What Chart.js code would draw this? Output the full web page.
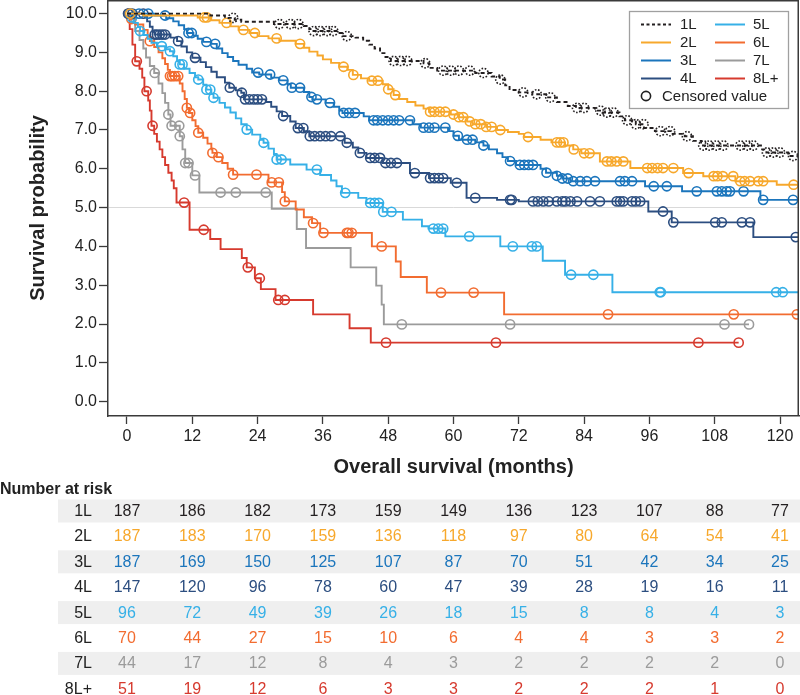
<!DOCTYPE html>
<html>
<head>
<meta charset="utf-8">
<script src="https://cdn.jsdelivr.net/npm/chart.js@4"></script>
<style>
  html, body { margin: 0; padding: 0; background: #fff; }
  #wrap { position: relative; width: 800px; height: 695px; }
</style>
</head>
<body>
<div id="wrap"><canvas id="km"></canvas></div>
<script>
// Kaplan-Meier overall survival by line of therapy, with number-at-risk table.

const curveNames = ["1L", "2L", "3L", "4L", "5L", "6L", "7L", "8L+"];
const riskMonths = [0, 12, 24, 36, 48, 60, 72, 84, 96, 108, 120];

// step curves: time (months) where the curve drops, and the value after the drop
const t1L = [0, 15.3, 18, 19.8, 21, 27, 32.5, 33.5, 34, 38.5, 39.5, 42, 43.4, 44.5, 45.5, 46.5, 47.5, 48.5, 54.5, 55.5, 57, 64, 67, 68.5, 69.5, 70.3, 72, 74.5, 77, 79, 81, 82.5, 86, 87.5, 90.5, 91.5, 93.5, 95, 97, 100, 102.5, 104, 105.5, 116.5, 117.5, 121.5];
const s1L = [10, 9.95, 9.89, 9.84, 9.79, 9.73, 9.68, 9.6, 9.55, 9.5, 9.42, 9.38, 9.3, 9.2, 9.1, 8.98, 8.88, 8.78, 8.72, 8.6, 8.53, 8.47, 8.38, 8.3, 8.15, 8.03, 7.97, 7.92, 7.84, 7.72, 7.62, 7.57, 7.5, 7.45, 7.35, 7.25, 7.15, 7.05, 6.97, 6.9, 6.84, 6.72, 6.6, 6.5, 6.42, 6.33];
const c1L = [19.5, 28, 30, 31.5, 34.3, 35.5, 36.8, 37.9, 40.4, 49, 50.3, 51.5, 54.8, 58.1, 59.5, 61, 63, 65.5, 68.6, 72.8, 75.3, 77.8, 82.7, 84, 87, 88.2, 89.4, 91.9, 93.5, 94.9, 98, 99.8, 102.9, 105.9, 107, 108.3, 109.6, 112.7, 114, 115.1, 117.6, 118.8, 120, 122.4];

const t2L = [0, 3, 13, 15.3, 17, 19, 20.5, 22.5, 24, 26, 28, 31, 32.5, 33.5, 35, 36, 37.5, 39, 40.5, 41.5, 43, 44.5, 47, 48, 49, 50, 51.5, 53, 54.5, 55.5, 59.5, 61, 62.5, 63.5, 66, 68, 70, 72, 73, 76, 78, 80.5, 82, 83.5, 86.9, 92.5, 102.2, 105.9, 111.8, 119.4];
const s2L = [10, 9.95, 9.9, 9.83, 9.76, 9.67, 9.58, 9.5, 9.42, 9.36, 9.3, 9.22, 9.12, 9.02, 8.92, 8.82, 8.73, 8.63, 8.55, 8.42, 8.33, 8.27, 8.18, 8.05, 7.9, 7.8, 7.72, 7.63, 7.55, 7.47, 7.4, 7.33, 7.22, 7.15, 7.08, 7.0, 6.95, 6.9, 6.82, 6.75, 6.68, 6.6, 6.5, 6.4, 6.19, 6.02, 5.89, 5.81, 5.68, 5.59];
const c2L = [0.6, 14.2, 14.7, 18.3, 21.4, 23.5, 27.5, 31.8, 39.8, 41.6, 45, 46.1, 48, 49.3, 55.7, 56.5, 57.5, 58.5, 60, 61, 61.8, 63, 64, 65, 66, 67, 68.6, 73.7, 79, 79.6, 80.2, 82.1, 84, 85, 88.2, 89, 90, 91.2, 95.6, 96.5, 97.5, 98.5, 100.4, 103.2, 107.8, 108.5, 109.5, 111.4, 112.7, 113.5, 114.5, 116, 116.9, 122.5];

const t3L = [0, 5, 7.2, 8.5, 9.5, 10.5, 11, 12.2, 13, 14, 15.5, 16.5, 17.5, 18.5, 19.5, 20.5, 22, 23, 24.3, 26.5, 28, 29.5, 30.1, 32.5, 33.5, 34.1, 36.5, 38, 39, 39.6, 43.5, 44.5, 52.5, 54, 59, 60, 61, 64, 65.5, 66.5, 68, 69, 70, 71.5, 76, 77, 79, 80, 81.5, 95.2, 102, 116.4];
const s3L = [10, 9.95, 9.88, 9.8, 9.7, 9.6, 9.5, 9.43, 9.35, 9.27, 9.22, 9.1, 8.98, 8.88, 8.78, 8.68, 8.58, 8.48, 8.43, 8.35, 8.28, 8.18, 8.09, 7.98, 7.85, 7.79, 7.7, 7.6, 7.5, 7.44, 7.35, 7.25, 7.15, 7.06, 6.97, 6.85, 6.75, 6.68, 6.6, 6.5, 6.4, 6.3, 6.2, 6.1, 6.0, 5.9, 5.82, 5.75, 5.68, 5.55, 5.42, 5.2];
const c3L = [0.5, 2.2, 3.9, 7.0, 11.3, 11.9, 14.6, 16.2, 24.1, 26.3, 28.7, 30.3, 31.8, 33.9, 34.9, 37.3, 39.8, 40.8, 41.9, 45.3, 46, 47, 48, 49, 50, 52, 54.5, 55.5, 56.5, 58.5, 60.8, 62.5, 63.5, 65.5, 70.4, 72.2, 73, 73.8, 74.6, 77.1, 79, 80, 81, 82, 83.3, 84.5, 86, 90.6, 91.5, 92.8, 96.8, 99.2, 104.7, 108.4, 109.3, 110.2, 110.8, 113.3, 116.9, 122.4];

const t4L = [0, 3.2, 3.7, 4.2, 4.7, 5.05, 8, 9.2, 10, 11, 12, 13.5, 14.5, 15.5, 16.5, 18, 18.8, 20, 21, 21.5, 25.5, 26.5, 27.5, 28.5, 30, 31, 32.5, 33.5, 40, 41.5, 42.5, 44, 47, 52, 55.5, 59.5, 62.4, 68, 72, 95.8, 100.1, 115.1];
const s4L = [10, 9.93, 9.8, 9.66, 9.53, 9.46, 9.38, 9.29, 9.15, 9.0, 8.86, 8.75, 8.62, 8.5, 8.36, 8.22, 8.09, 8.02, 7.96, 7.79, 7.72, 7.6, 7.48, 7.36, 7.22, 7.05, 6.97, 6.84, 6.67, 6.55, 6.41, 6.28, 6.15, 5.89, 5.76, 5.64, 5.25, 5.2, 5.16, 4.9, 4.62, 4.24];
const c4L = [0.2, 1.0, 3.0, 5.1, 5.5, 6.0, 6.5, 7.0, 9.4, 12.5, 18.9, 21.1, 21.7, 22.5, 23.3, 24, 24.8, 28.7, 31.4, 32.4, 33.6, 34.5, 35.5, 36.5, 37.5, 39.2, 40.4, 42.8, 44.7, 45.5, 46.5, 47.5, 48.5, 49.6, 52.9, 55.7, 56.5, 57.3, 58.1, 60.6, 64, 70.4, 70.7, 74.6, 75.5, 76.5, 77.5, 79, 80, 80.6, 81.5, 82.7, 85.1, 86.9, 90, 90.6, 91.2, 92.8, 93.5, 94.3, 98.5, 100.4, 108.1, 109.3, 113, 114.5, 122.9];

const t5L = [0, 0.7, 1.2, 2, 2.4, 3, 3.8, 4.5, 5.5, 7, 7.9, 8.5, 9.2, 9.7, 10.5, 11.5, 12.5, 13.1, 14, 14.6, 15.5, 15.9, 17, 18, 19, 20, 21, 22, 23, 24.5, 25.1, 26, 27, 27.5, 30, 33, 35.5, 37.5, 38.5, 39.5, 42.5, 44, 47, 50.7, 54.2, 55.4, 58.5, 68.6, 76.4, 80.5, 89.2];
const s5L = [10, 9.9, 9.76, 9.65, 9.55, 9.45, 9.35, 9.25, 9.16, 9.08, 9.03, 8.9, 8.78, 8.69, 8.58, 8.47, 8.36, 8.3, 8.17, 8.04, 7.93, 7.83, 7.7, 7.58, 7.45, 7.3, 7.15, 7.01, 6.88, 6.75, 6.67, 6.52, 6.38, 6.24, 6.11, 5.98, 5.84, 5.7, 5.55, 5.38, 5.25, 5.12, 4.89, 4.69, 4.52, 4.46, 4.26, 4.0, 3.63, 3.27, 2.82];
const c5L = [0.9, 2.4, 6.4, 7.9, 9.7, 10.2, 13.1, 14.6, 15.3, 15.9, 22.0, 25.1, 27.5, 28.4, 34.9, 40.1, 44.7, 45.5, 46.3, 47.1, 48.6, 56.3, 57.2, 58.1, 62.9, 70.9, 74.4, 75.3, 81.6, 85.7, 97.9, 98.1, 119.3, 120.5];

const t6L = [0, 0.5, 1.5, 3, 3.8, 4.2, 5, 5.8, 6.5, 7, 7.5, 7.9, 9.7, 10.2, 10.6, 11, 11.4, 12, 12.6, 13.1, 14, 14.8, 15.5, 15.7, 16.5, 17.5, 18.5, 19.5, 26, 28.5, 29, 31, 32.5, 34, 35.5, 45, 49.4, 50.3, 55.1, 69.3];
const s6L = [10, 9.86, 9.72, 9.58, 9.43, 9.29, 9.14, 9.0, 8.85, 8.7, 8.55, 8.39, 8.2, 8.0, 7.8, 7.57, 7.44, 7.25, 7.1, 6.93, 6.8, 6.65, 6.5, 6.41, 6.3, 6.15, 6.0, 5.85, 5.65, 5.4, 5.16, 4.95, 4.75, 4.6, 4.35, 4.0, 3.61, 3.21, 2.81, 2.25];
const c6L = [0.3, 0.8, 4.2, 7.9, 8.3, 8.8, 9.4, 11, 11.6, 13.1, 15.7, 16.8, 19.5, 23.8, 26.6, 27.9, 29, 34.2, 36.1, 40.4, 40.7, 41.3, 46.8, 57.7, 63.7, 88.4, 111.5, 123.1];

const t7L = [0, 0.8, 1.5, 2.3, 3, 3.5, 4.2, 5, 5.8, 6.5, 7, 7.6, 8, 9.7, 10.2, 10.7, 12, 13.3, 26.6, 31.2, 32.9, 41.1, 45.8, 46.8, 47.2];
const s7L = [10, 9.77, 9.55, 9.32, 9.1, 8.87, 8.65, 8.47, 8.2, 7.95, 7.7, 7.4, 7.11, 6.84, 6.5, 6.15, 5.83, 5.39, 4.97, 4.45, 3.96, 3.46, 2.99, 2.5, 1.99];
const c7L = [0.5, 5.1, 7.6, 8.2, 9.6, 9.7, 10.7, 11.3, 12.5, 17.2, 20.0, 25.5, 50.5, 70.4, 109.8, 114.3];

const t8L = [0, 0.5, 1, 1.5, 2.3, 2.8, 3.2, 3.9, 4.2, 4.5, 5, 5.5, 6, 6.5, 7, 7.6, 8.2, 8.6, 9.1, 11.5, 15.3, 17.2, 21.1, 22, 23.5, 24.6, 27.3, 34.2, 40.9, 44.8];
const s8L = [10, 9.6, 9.2, 8.77, 8.58, 8.35, 8.0, 7.76, 7.5, 7.11, 6.9, 6.7, 6.5, 6.3, 6.1, 5.9, 5.7, 5.5, 5.13, 4.43, 4.19, 3.93, 3.7, 3.46, 3.18, 2.9, 2.62, 2.25, 1.89, 1.52];
const c8L = [0.4, 1.8, 3.6, 4.7, 10.5, 14.1, 22.2, 24.4, 27.8, 29.0, 47.6, 67.8, 105, 112.4];

// last follow-up time of each curve
const followUpEnd = [123.5, 123.5, 123.5, 123.5, 123.5, 123.5, 114.3, 112.4];

// number at risk
const risk1L = [187, 186, 182, 173, 159, 149, 136, 123, 107, 88, 77];
const risk2L = [187, 183, 170, 159, 136, 118, 97, 80, 64, 54, 41];
const risk3L = [187, 169, 150, 125, 107, 87, 70, 51, 42, 34, 25];
const risk4L = [147, 120, 96, 78, 60, 47, 39, 28, 19, 16, 11];
const risk5L = [96, 72, 49, 39, 26, 18, 15, 8, 8, 4, 3];
const risk6L = [70, 44, 27, 15, 10, 6, 4, 4, 3, 3, 2];
const risk7L = [44, 17, 12, 8, 4, 3, 2, 2, 2, 2, 0];
const risk8L = [51, 19, 12, 6, 3, 3, 2, 2, 2, 1, 0];

const stepTimes = [t1L, t2L, t3L, t4L, t5L, t6L, t7L, t8L];
const stepSurv = [s1L, s2L, s3L, s4L, s5L, s6L, s7L, s8L];
const censorTimes = [c1L, c2L, c3L, c4L, c5L, c6L, c7L, c8L];
const riskCounts = [risk1L, risk2L, risk3L, risk4L, risk5L, risk6L, risk7L, risk8L];

const COLORS = ["#231f20", "#f7a82c", "#1b75bc", "#2c4e80", "#36b0e7", "#f26c30", "#9b9b9b", "#d63a2e"];
const AXIS = "#3a3a3a";
const TEXT = "#222";
const FONT = '"Liberation Sans", Arial, Helvetica, sans-serif';

Chart.defaults.font.family = FONT;
Chart.defaults.color = TEXT;

function survivalAt(times, surv, t) {
  let v = surv[0];
  for (let i = 0; i < times.length; i++) {
    if (times[i] <= t) v = surv[i];
    else break;
  }
  return v;
}

const datasets = [];
curveNames.forEach((name, i) => {
  const times = stepTimes[i];
  const surv = stepSurv[i];
  const pts = times.map((t, k) => ({ x: t, y: surv[k] }));
  pts.push({ x: followUpEnd[i], y: surv[surv.length - 1] });
  datasets.push({
    label: name,
    data: pts,
    showLine: true,
    stepped: "before",
    borderColor: COLORS[i],
    borderWidth: 1.9,
    borderDash: i === 0 ? [4, 3] : [],
    pointRadius: 0,
    pointHoverRadius: 0,
    fill: false,
  });
  datasets.push({
    label: name + " censored",
    data: censorTimes[i].map((t) => ({ x: t, y: survivalAt(times, surv, t) })),
    showLine: false,
    pointStyle: "circle",
    pointRadius: 4.6,
    pointHoverRadius: 4.6,
    pointBorderWidth: 1.6,
    pointBorderColor: COLORS[i],
    pointBackgroundColor: "rgba(0,0,0,0)",
    dottedMarks: i === 0,
  });
});

// no extra room for edge tick labels: plot area fills the frame
function noEdgePadding(s) {
  s.paddingLeft = 0;
  s.paddingRight = 0;
  s.paddingTop = 0;
  s.paddingBottom = 0;
}

const kmDecor = {
  id: "kmDecor",
  beforeDatasetDraw(chart, args) {
    if (chart.data.datasets[args.index].dottedMarks) {
      chart.ctx.save();
      chart.ctx.setLineDash([1.6, 1.6]);
    }
  },
  afterDatasetDraw(chart, args) {
    if (chart.data.datasets[args.index].dottedMarks) chart.ctx.restore();
  },
  afterDraw(chart) {
    const { ctx, chartArea: a } = chart;
    const x = chart.scales.x;

    // top and right frame
    ctx.save();
    ctx.strokeStyle = AXIS;
    ctx.lineWidth = 1.5;
    ctx.beginPath();
    ctx.moveTo(a.left, a.top + 0.75);
    ctx.lineTo(a.right - 0.75, a.top + 0.75);
    ctx.lineTo(a.right - 0.75, a.bottom);
    ctx.stroke();

    // legend
    ctx.fillStyle = "#fff";
    ctx.fillRect(629.5, 11.5, 159, 97);
    ctx.strokeStyle = "#a0a0a0";
    ctx.lineWidth = 1.3;
    ctx.strokeRect(629.5, 11.5, 159, 97);
    ctx.font = "15px " + FONT;
    ctx.textBaseline = "middle";
    ctx.textAlign = "left";
    const rowsY = [24.5, 42.5, 60.5, 78.5];
    curveNames.forEach((name, i) => {
      const col = i < 4 ? 0 : 1;
      const y = rowsY[i % 4];
      const x0 = col === 0 ? 641 : 715;
      ctx.strokeStyle = COLORS[i];
      ctx.lineWidth = 2;
      ctx.setLineDash(i === 0 ? [3, 2.5] : []);
      ctx.beginPath();
      ctx.moveTo(x0, y);
      ctx.lineTo(x0 + 30, y);
      ctx.stroke();
      ctx.setLineDash([]);
      ctx.fillStyle = TEXT;
      ctx.fillText(name, col === 0 ? 680 : 753, y + 0.5);
    });
    ctx.strokeStyle = TEXT;
    ctx.lineWidth = 1.6;
    ctx.beginPath();
    ctx.arc(646, 96, 4.6, 0, Math.PI * 2);
    ctx.stroke();
    ctx.fillText("Censored value", 662, 96.5);

    // number at risk table
    ctx.font = "bold 16px " + FONT;
    ctx.fillStyle = TEXT;
    ctx.fillText("Number at risk", 0, 490);
    ctx.font = "16px " + FONT;
    curveNames.forEach((name, i) => {
      const y = 511 + i * 25.4;
      if (i % 2 === 0) {
        ctx.fillStyle = "#efefef";
        ctx.fillRect(58, y - 11.5, 742, 23);
      }
      ctx.fillStyle = TEXT;
      ctx.textAlign = "right";
      ctx.fillText(name, 92, y + 0.5);
      ctx.textAlign = "center";
      ctx.fillStyle = COLORS[i];
      riskCounts[i].forEach((n, j) => {
        ctx.fillText(String(n), x.getPixelForValue(riskMonths[j]), y + 0.5);
      });
    });
    ctx.restore();
  },
};

new Chart(document.getElementById("km"), {
  type: "scatter",
  data: { datasets },
  options: {
    responsive: true,
    maintainAspectRatio: false,
    animation: false,
    devicePixelRatio: 1,
    layout: { autoPadding: false, padding: { top: 0, right: 1, bottom: 212, left: 0 } },
    plugins: {
      legend: { display: false },
      tooltip: { enabled: false },
    },
    scales: {
      x: {
        type: "linear",
        min: -3.49,
        max: 123.49,
        afterFit: (s) => { s.height = 67; noEdgePadding(s); },
        ticks: {
          stepSize: 12,
          includeBounds: false,
          autoSkip: false,
          maxRotation: 0,
          padding: 3,
          color: TEXT,
          font: { size: 16 },
        },
        grid: { drawOnChartArea: false, tickLength: 8, tickColor: AXIS, tickWidth: 1.3 },
        border: { color: AXIS, width: 1.5 },
        title: {
          display: true,
          text: "Overall survival (months)",
          color: TEXT,
          font: { size: 20, weight: "bold" },
          padding: { top: 4, bottom: 4 },
        },
      },
      y: {
        min: -0.37,
        max: 10.35,
        afterFit: (s) => { s.width = 108; noEdgePadding(s); },
        ticks: {
          stepSize: 1,
          includeBounds: false,
          padding: 2,
          color: TEXT,
          font: { size: 16 },
          callback: (v) => Number(v).toFixed(1),
        },
        grid: {
          color: (c) => (c.tick && c.tick.value === 5 ? "#d9d9d9" : "rgba(0,0,0,0)"),
          lineWidth: 1,
          tickLength: 9,
          tickColor: AXIS,
          tickWidth: 1.3,
        },
        border: { color: AXIS, width: 1.5 },
        title: {
          display: true,
          text: "Survival probability",
          color: TEXT,
          font: { size: 20, weight: "bold" },
          padding: { top: 26, bottom: 0 },
        },
      },
    },
  },
  plugins: [kmDecor],
});
</script>
</body>
</html>
